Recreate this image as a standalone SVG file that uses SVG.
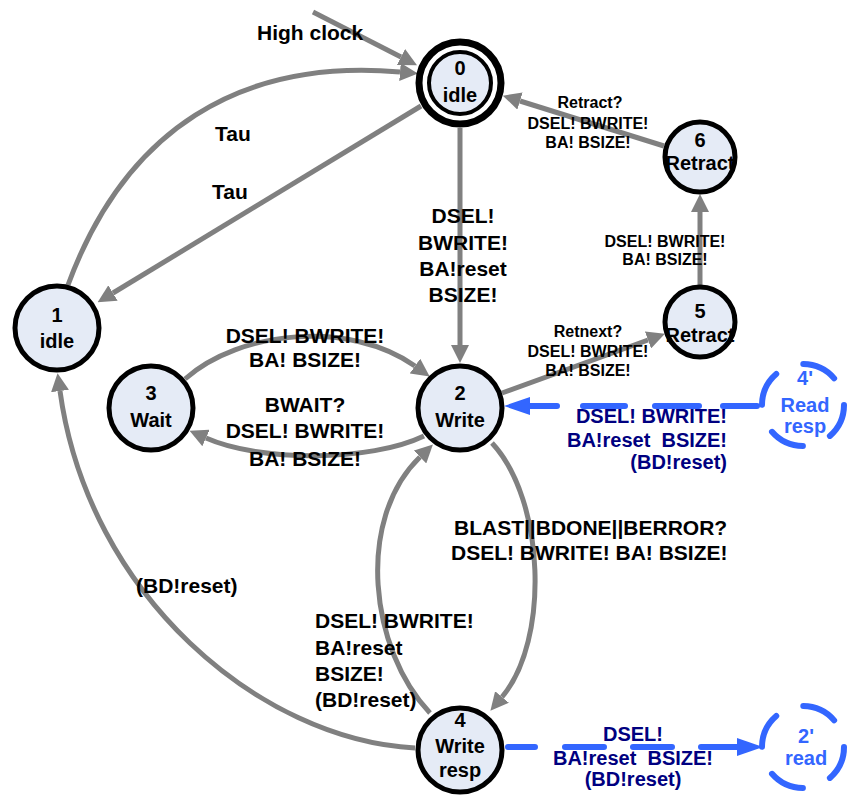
<svg xmlns="http://www.w3.org/2000/svg" width="848" height="797" viewBox="0 0 848 797">
  <style>
    text { font-family: "Liberation Sans", Arial, sans-serif; font-weight: bold; }
    .edge { fill: none; stroke: #808080; stroke-width: 5; marker-end: url(#arrow-gray); }
    .blue-edge { fill: none; stroke: #3366ff; stroke-width: 6; stroke-linecap: round; marker-end: url(#arrow-blue); }
    .lbl { font-size: 21px; fill: #000; }
    .lbl-s { font-size: 16px; fill: #000; text-anchor: middle; }
    .lbl-n { font-size: 20px; fill: #000080; }
    .mid { text-anchor: middle; }
    .state { fill: #e5ebf6; stroke: #000; stroke-width: 5; }
    .state-txt { font-size: 20px; fill: #000; text-anchor: middle; }
    .ghost { fill: none; stroke: #3366ff; stroke-width: 6; stroke-linecap: round; stroke-dasharray: 35 29.4; }
    .ghost-txt { font-size: 20px; fill: #3366ff; text-anchor: middle; }
  </style>
  <defs>
    <marker id="arrow-gray" markerUnits="userSpaceOnUse" markerWidth="18" markerHeight="18" refX="0" refY="9" orient="auto">
      <path d="M0,0 L18,9 L0,18 z" fill="#808080"/>
    </marker>
    <marker id="arrow-blue" markerUnits="userSpaceOnUse" markerWidth="26" markerHeight="20" refX="0" refY="10" orient="auto">
      <path d="M0,1 L26,10 L0,19 z" fill="#3366ff"/>
    </marker>
  </defs>

  <rect width="848" height="797" fill="#ffffff"/>

  <g id="connectors">
    <!-- initial transition -->
    <path class="edge" d="M313,12 L401,57"/>
    <!-- 1 -> 0 -->
    <path class="edge" d="M68,285 C125,130 240,58 400,72"/>
    <!-- 0 -> 1 -->
    <path class="edge" d="M421,106 L113,293"/>
    <!-- 0 -> 2 -->
    <path class="edge" d="M460,128 L460,345"/>
    <!-- 3 -> 2 -->
    <path class="edge" d="M185,379 C240,330 350,320 415,366"/>
    <!-- 2 -> 3 -->
    <path class="edge" d="M424,436 C370,462 260,462 206,438"/>
    <!-- 2 -> 5 -->
    <path class="edge" d="M502,393 L648,340"/>
    <!-- 5 -> 6 -->
    <path class="edge" d="M700,285 L700,212"/>
    <!-- 6 -> 0 -->
    <path class="edge" d="M664,146 L520,101"/>
    <!-- 2 -> 4 -->
    <path class="edge" d="M492,443 C545,500 550,640 502,697"/>
    <!-- 4 -> 2 -->
    <path class="edge" d="M430,713 C370,650 355,520 420,457"/>
    <!-- 4 -> 1 -->
    <path class="edge" d="M415,748 C260,740 88,595 60,391"/>
    <!-- 4' -> 2 -->
    <path class="blue-edge" d="M757,406 L530,406" stroke-dasharray="34 24 44 30 42 26 27"/>
    <!-- 4 -> 2' -->
    <path class="blue-edge" d="M508,747 L737,747" stroke-dasharray="27 30 39 29 39 29 36"/>

    <!-- labels -->
    <text class="lbl" x="257" y="40">High clock</text>
    <text class="lbl" x="215" y="141">Tau</text>
    <text class="lbl" x="212" y="199">Tau</text>

    <text class="lbl mid" x="463" y="223" font-size="20">DSEL!</text>
    <text class="lbl mid" x="463" y="250" font-size="20">BWRITE!</text>
    <text class="lbl mid" x="463" y="276" font-size="20">BA!reset</text>
    <text class="lbl mid" x="463" y="302" font-size="20">BSIZE!</text>

    <text class="lbl mid" x="305" y="343">DSEL! BWRITE!</text>
    <text class="lbl mid" x="305" y="367">BA! BSIZE!</text>

    <text class="lbl mid" x="305" y="412">BWAIT?</text>
    <text class="lbl mid" x="305" y="438">DSEL! BWRITE!</text>
    <text class="lbl mid" x="305" y="466">BA! BSIZE!</text>

    <text class="lbl-s" x="590" y="108">Retract?</text>
    <text class="lbl-s" x="588" y="129">DSEL! BWRITE!</text>
    <text class="lbl-s" x="588" y="148">BA! BSIZE!</text>

    <text class="lbl-s" x="665" y="247">DSEL! BWRITE!</text>
    <text class="lbl-s" x="665" y="265">BA! BSIZE!</text>

    <text class="lbl-s" x="588" y="337">Retnext?</text>
    <text class="lbl-s" x="588" y="357">DSEL! BWRITE!</text>
    <text class="lbl-s" x="588" y="376">BA! BSIZE!</text>

    <text class="lbl" x="454" y="535" font-size="21.5">BLAST||BDONE||BERROR?</text>
    <text class="lbl" x="451" y="560" font-size="21.5">DSEL! BWRITE! BA! BSIZE!</text>

    <text class="lbl" x="315" y="628">DSEL! BWRITE!</text>
    <text class="lbl" x="315" y="655">BA!reset</text>
    <text class="lbl" x="315" y="681">BSIZE!</text>
    <text class="lbl" x="315" y="707">(BD!reset)</text>

    <text class="lbl" x="136" y="593">(BD!reset)</text>

    <text class="lbl-n" x="727" y="423" text-anchor="end">DSEL! BWRITE!</text>
    <text class="lbl-n" x="727" y="447" text-anchor="end">BA!reset&#160; BSIZE!</text>
    <text class="lbl-n" x="727" y="469" text-anchor="end">(BD!reset)</text>

    <text class="lbl-n mid" x="633" y="741">DSEL!</text>
    <text class="lbl-n mid" x="633" y="765">BA!reset&#160; BSIZE!</text>
    <text class="lbl-n mid" x="633" y="786">(BD!reset)</text>
  </g>

  <g id="node-0">
    <circle cx="460" cy="83" r="41" fill="#ffffff" stroke="#000" stroke-width="7"/>
    <circle cx="460" cy="83" r="31" fill="#e5ebf6" stroke="#000" stroke-width="4"/>
    <text class="state-txt" x="460" y="75">0</text>
    <text class="state-txt" x="460" y="102">idle</text>
  </g>
  <g id="node-1">
    <circle class="state" cx="57" cy="328" r="42"/>
    <text class="state-txt" x="57" y="322">1</text>
    <text class="state-txt" x="57" y="348">idle</text>
  </g>
  <g id="node-2">
    <circle class="state" cx="460" cy="408" r="42"/>
    <text class="state-txt" x="460" y="400">2</text>
    <text class="state-txt" x="460" y="427">Write</text>
  </g>
  <g id="node-3">
    <circle class="state" cx="151" cy="408" r="42"/>
    <text class="state-txt" x="151" y="400">3</text>
    <text class="state-txt" x="151" y="427">Wait</text>
  </g>
  <g id="node-4">
    <circle class="state" cx="460" cy="750" r="42"/>
    <text class="state-txt" x="460" y="727">4</text>
    <text class="state-txt" x="460" y="753">Write</text>
    <text class="state-txt" x="460" y="777">resp</text>
  </g>
  <g id="node-5">
    <circle class="state" cx="700" cy="322" r="35"/>
    <text class="state-txt" x="700" y="318" font-size="18">5</text>
    <text class="state-txt" x="700" y="342" font-size="18">Retract</text>
  </g>
  <g id="node-6">
    <circle class="state" cx="700" cy="157" r="35"/>
    <text class="state-txt" x="700" y="147" font-size="18">6</text>
    <text class="state-txt" x="700" y="170" font-size="18">Retract</text>
  </g>
  <g id="node-4p">
    <circle class="ghost" cx="803" cy="405" r="41"/>
    <text class="ghost-txt" x="805" y="385">4'</text>
    <text class="ghost-txt" x="805" y="412">Read</text>
    <text class="ghost-txt" x="805" y="433">resp</text>
  </g>
  <g id="node-2p">
    <circle class="ghost" cx="803" cy="747" r="41"/>
    <text class="ghost-txt" x="806" y="743">2'</text>
    <text class="ghost-txt" x="806" y="765">read</text>
  </g>
</svg>
